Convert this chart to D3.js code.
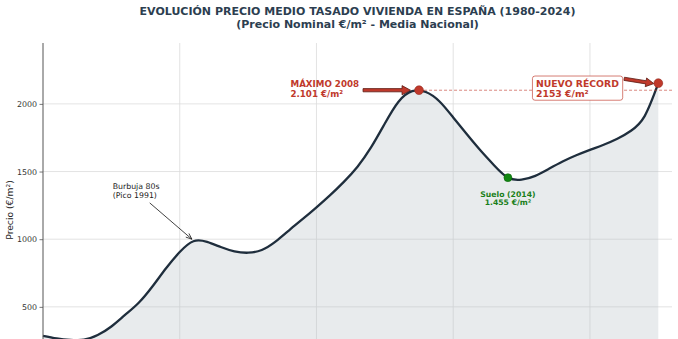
<!DOCTYPE html>
<html><head><meta charset="utf-8">
<script src="https://cdn.jsdelivr.net/npm/d3@7"></script>
<style>body{margin:0;background:#fff;} svg{display:block;font-family:"DejaVu Sans",sans-serif;}</style>
</head><body><svg id="c" width="678" height="339"></svg>
<script>
// ---- data ----
const years  = [1980,1981,1982,1983,1984,1985,1986,1987,1988,1989,1990,1991,1992,1993,1994,1995,1996,1997,1998,1999,2000,2001,2002,2003,2004,2005,2006,2007,2008,2009,2010,2011,2012,2013,2014,2015,2016,2017,2018,2019,2020,2021,2022,2023,2024,2025];
const prices = [285,266,255,258,292,355,440,530,650,785,905,985,980,942,910,900,920,982,1066,1150,1236,1326,1424,1536,1680,1855,2016,2094,2088,2018,1900,1775,1655,1545,1455,1440,1468,1520,1574,1620,1660,1698,1742,1802,1910,2153];
const yTicks = [500,1000,1500,2000];
const xGridYears = [1990,2000,2010,2020];
const titleLines = ["EVOLUCIÓN PRECIO MEDIO TASADO VIVIENDA EN ESPAÑA (1980-2024)","(Precio Nominal €/m² - Media Nacional)"];
const yLabel = "Precio (€/m²)";
const maxYear = 2007.5, maxValue = 2101, maxLabel = ["MÁXIMO 2008","2.101 €/m²"], maxLabelYear = 1998.1;
const floorYear = 2014, floorValue = 1455, floorLabel = ["Suelo (2014)","1.455 €/m²"];
const recYear = 2025, recValue = 2153, recLabel = ["NUEVO RÉCORD","2153 €/m²"], recLabelYear = 2016.05;
const bubbleLabel = ["Burbuja 80s","(Pico 1991)"], bubbleLabelYear = 1985.1, bubbleLabelValue = 1371, bubbleYear = 1991, bubbleValue = 1000;

// ---- layout ----
const svg = d3.select("#c");
const L = 43, R = 672, T = 43, B = 374.5;
const x = d3.scaleLinear().domain([1980, 2026]).range([L, R]);
const y = d3.scaleLinear().domain([0, 2450]).range([B, T]);
const red = "#c0392b", navy = "#1f2e3d", green = "#1a7f1a";

// title
svg.append("text").attr("x", (L+R)/2).attr("y", 15).attr("text-anchor","middle")
  .attr("font-size", 11).attr("font-weight","bold").attr("fill","#2c3e50").text(titleLines[0]);
svg.append("text").attr("x", (L+R)/2).attr("y", 27.5).attr("text-anchor","middle")
  .attr("font-size", 11).attr("font-weight","bold").attr("fill","#2c3e50").text(titleLines[1]);

// grid
const grid = svg.append("g").attr("stroke","#dcdcdc").attr("stroke-width",0.8);
grid.selectAll("line.h").data(yTicks).join("line").attr("class","h")
  .attr("x1", L).attr("x2", R).attr("y1", d=>y(d)).attr("y2", d=>y(d));
grid.selectAll("line.v").data(xGridYears).join("line").attr("class","v")
  .attr("x1", d=>x(d)).attr("x2", d=>x(d)).attr("y1", T).attr("y2", B);

// area + line
const pts = years.map((yr,i)=>[yr, prices[i]]);
const curve = d3.curveNatural;
svg.append("path").datum(pts)
  .attr("d", d3.area().x(d=>x(d[0])).y0(y(0)).y1(d=>y(d[1])).curve(curve))
  .attr("fill","#b9c0c8").attr("fill-opacity",0.32);
svg.append("path").datum(pts)
  .attr("d", d3.line().x(d=>x(d[0])).y(d=>y(d[1])).curve(curve))
  .attr("fill","none").attr("stroke",navy).attr("stroke-width",2.3);

// y axis
const yAxis = d3.axisLeft(y).tickValues(yTicks).tickSize(3.5).tickPadding(2.5).tickFormat(d3.format("d"));
const ag = svg.append("g").attr("transform",`translate(${L},0)`).call(yAxis);
ag.select(".domain").remove();
ag.selectAll(".tick line").attr("stroke","#555").attr("stroke-width",0.8);
ag.selectAll(".tick text").attr("font-size",7.9).attr("fill","#333").attr("font-family","DejaVu Sans");
svg.append("line").attr("x1",L).attr("x2",L).attr("y1",T).attr("y2",B).attr("stroke","#555").attr("stroke-width",1);
svg.append("text").attr("transform",`translate(13,${210}) rotate(-90)`).attr("text-anchor","middle")
  .attr("font-size",9.2).attr("fill","#222").text(yLabel);

// helpers
function fancyArrow(x0,y0,x1,y1,tw,hw,hl){
  const dx=x1-x0, dy=y1-y0, len=Math.hypot(dx,dy), ux=dx/len, uy=dy/len, nx=-uy, ny=ux;
  const bx=x1-ux*hl, by=y1-uy*hl;
  const p=[[x0+nx*tw,y0+ny*tw],[bx+nx*tw,by+ny*tw],[bx+nx*hw,by+ny*hw],[x1,y1],[bx-nx*hw,by-ny*hw],[bx-nx*tw,by-ny*tw],[x0-nx*tw,y0-ny*tw]];
  return "M"+p.map(q=>q.join(",")).join("L")+"Z";
}
function multiText(g, lines, xx, yy, opts){
  const t = g.append("text").attr("x",xx).attr("font-size",opts.size).attr("font-weight",opts.weight||"normal")
    .attr("fill",opts.fill).attr("text-anchor",opts.anchor||"start");
  lines.forEach((s,i)=>t.append("tspan").attr("x",xx).attr("y",yy+i*opts.lh).text(s));
  return t;
}

// dashed line from max to right edge
svg.append("line").attr("x1",x(maxYear)).attr("x2",R).attr("y1",y(maxValue)).attr("y2",y(maxValue))
  .attr("stroke",red).attr("stroke-width",0.8).attr("stroke-dasharray","3,2").attr("opacity",0.75);

// Bubble annotation
const bt = multiText(svg, bubbleLabel, x(bubbleLabelYear), y(bubbleLabelValue), {size:7.8, fill:"#222", lh:9.4});
{
  const bb = bt.node().getBBox();
  const cx = bb.x+bb.width/2, cy = bb.y+bb.height/2;
  const tx = x(bubbleYear)-1.5, ty = y(bubbleValue);
  const dx=tx-cx, dy=ty-cy, len=Math.hypot(dx,dy), ux=dx/len, uy=dy/len;
  const t0 = (bb.y+bb.height+2.5-cy)/uy;
  const sx = cx+ux*t0, sy = cy+uy*t0;
  svg.append("line").attr("x1",sx).attr("y1",sy).attr("x2",tx).attr("y2",ty).attr("stroke","#111").attr("stroke-width",0.8);
  const hl=6, hw=2.4, bx=tx-ux*hl, by=ty-uy*hl;
  svg.append("path").attr("d",`M${bx-uy*hw},${by+ux*hw}L${tx},${ty}L${bx+uy*hw},${by-ux*hw}`)
    .attr("fill","none").attr("stroke","#111").attr("stroke-width",0.8);
}

// Max annotation
const mx = x(maxYear), my = y(maxValue);
const mt = multiText(svg, maxLabel, x(maxLabelYear), my-3, {size:8.7, weight:"bold", fill:red, lh:9.6});
{
  const bb = mt.node().getBBox();
  svg.append("path").attr("d", fancyArrow(bb.x+bb.width+4, my, mx-8.5, my, 1.6, 4.6, 8.5))
    .attr("fill",red).attr("stroke","#5b1a13").attr("stroke-width",0.8);
}
svg.append("circle").attr("cx",mx).attr("cy",my).attr("r",4.4).attr("fill",red).attr("stroke","#922b21").attr("stroke-width",0.6);

// Floor annotation
const fx = x(floorYear), fy = y(floorValue);
svg.append("circle").attr("cx",fx).attr("cy",fy).attr("r",4).attr("fill","#128712").attr("stroke","#0b5e0b").attr("stroke-width",0.5);
multiText(svg, floorLabel, fx, fy+19, {size:7.7, weight:"bold", fill:green, lh:8.6, anchor:"middle"});

// Record annotation
const rx = x(recYear), ry = y(recValue);
const rg = svg.append("g");
const rbox = rg.append("rect");
const rt = multiText(rg, recLabel, x(recLabelYear), my-3, {size:9.3, weight:"bold", fill:red, lh:9.6});
{
  const bb = rt.node().getBBox();
  rbox.attr("x",bb.x-3.5).attr("y",bb.y-2.2).attr("width",bb.width+7).attr("height",bb.height+3.6)
    .attr("rx",2.5).attr("fill","#fff").attr("stroke",red).attr("stroke-opacity",0.65).attr("stroke-width",1);
  const ex = bb.x+bb.width+3.5;
  svg.append("path").attr("d", fancyArrow(ex+1.5, bb.y+0.6, rx-4.5, ry+0.4, 1.6, 4.4, 8))
    .attr("fill",red).attr("stroke","#5b1a13").attr("stroke-width",0.8);
}
svg.append("circle").attr("cx",rx).attr("cy",ry).attr("r",4.4).attr("fill",red).attr("stroke","#922b21").attr("stroke-width",0.6);
</script></body></html>
